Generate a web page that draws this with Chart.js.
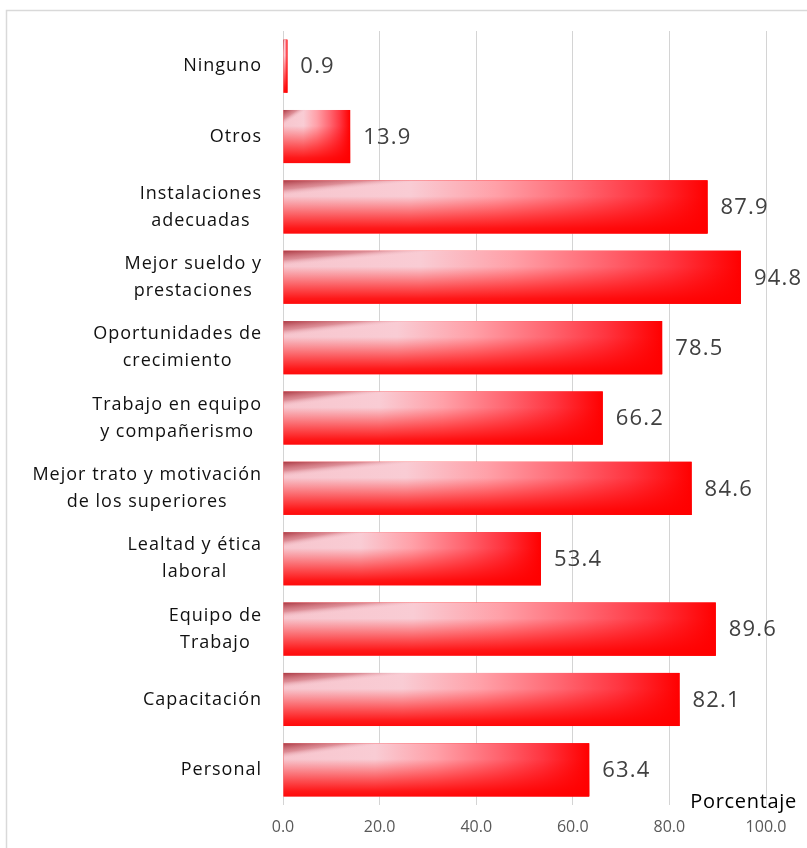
<!DOCTYPE html>
<html>
<head>
<meta charset="utf-8">
<script src="https://cdn.jsdelivr.net/npm/chart.js@4.4.1/dist/chart.umd.min.js"></script>
<style>
  html, body { margin: 0; padding: 0; background: #fff; }
  #wrap { width: 807px; height: 848px; }
</style>
</head>
<body>
<div id="wrap"><canvas id="myChart" width="807" height="848"></canvas></div>
<script>
// categorias de arriba hacia abajo
const categorias = [
    ["Ninguno"],
    ["Otros"],
    ["Instalaciones", "adecuadas"],
    ["Mejor sueldo y", "prestaciones"],
    ["Oportunidades de", "crecimiento"],
    ["Trabajo en equipo", "y compañerismo"],
    ["Mejor trato y motivación", "de los superiores"],
    ["Lealtad y ética", "laboral"],
    ["Equipo de", "Trabajo"],
    ["Capacitación"],
    ["Personal"]
];
const porcentajes = [0.9, 13.9, 87.9, 94.8, 78.5, 66.2, 84.6, 53.4, 89.6, 82.1, 63.4];
const ticksX = [0, 20, 40, 60, 80, 100];
const tituloX = "Porcentaje";

const fuente = "'Open Sans', 'Noto Sans', sans-serif";

// marco gris del grafico
const marco = {
    id: "marco",
    beforeDraw(chart) {
        const ctx = chart.ctx;
        ctx.save();
        ctx.strokeStyle = "#d9d9d9";
        ctx.lineWidth = 1.5;
        ctx.beginPath();
        ctx.moveTo(6.5, chart.height);
        ctx.lineTo(6.5, 10.5);
        ctx.lineTo(chart.width, 10.5);
        ctx.stroke();
        ctx.restore();
    }
};

// degradado tipo Excel sobre cada barra, etiquetas y textos
const decorado = {
    id: "decorado",
    afterDatasetsDraw(chart) {
        const ctx = chart.ctx;
        const meta = chart.getDatasetMeta(0);
        const yScale = chart.scales.y;
        meta.data.forEach((bar, i) => {
            const p = bar.getProps(["x", "y", "base", "height"], true);
            const x0 = Math.min(p.base, p.x);
            const w = Math.abs(p.x - p.base);
            const top = p.y - p.height / 2;
            if (w <= 0) return;
            ctx.save();
            ctx.translate(x0, top);
            ctx.scale(w, p.height);
            // horizontal: rosa palido -> rojo
            const gh = ctx.createLinearGradient(0, 0, 1, 0);
            gh.addColorStop(0, "#f7c6ce");
            gh.addColorStop(0.3, "#f9ccd4");
            gh.addColorStop(0.5, "#ffa0a8");
            gh.addColorStop(0.7, "#ff6570");
            gh.addColorStop(0.85, "#ff3540");
            gh.addColorStop(1, "#ff0000");
            ctx.fillStyle = gh;
            ctx.fillRect(0, 0, 1, 1);
            // vertical: rojo hacia abajo
            const gv = ctx.createLinearGradient(0, 0, 0, 1);
            gv.addColorStop(0, "rgba(255,0,0,0)");
            gv.addColorStop(0.3, "rgba(255,0,0,0)");
            gv.addColorStop(0.5, "rgba(255,0,0,0.3)");
            gv.addColorStop(0.7, "rgba(255,0,0,0.6)");
            gv.addColorStop(0.9, "rgba(255,0,0,0.88)");
            gv.addColorStop(1, "rgba(255,0,0,0.95)");
            ctx.fillStyle = gv;
            ctx.fillRect(0, 0, 1, 1);
            // cuña oscura arriba a la izquierda
            const gd = ctx.createLinearGradient(0, 0, 0.14, 0.17);
            gd.addColorStop(0, "rgba(165,45,55,0.92)");
            gd.addColorStop(0.6, "rgba(195,85,95,0.5)");
            gd.addColorStop(1, "rgba(240,190,200,0)");
            ctx.fillStyle = gd;
            ctx.fillRect(0, 0, 1, 1);
            ctx.restore();

            // valor
            ctx.save();
            ctx.font = "22px " + fuente;
            ctx.letterSpacing = "1.2px";
            ctx.fillStyle = "#404040";
            ctx.textAlign = "left";
            ctx.textBaseline = "middle";
            ctx.fillText(porcentajes[i].toFixed(1), p.x + 13, p.y + 1);
            ctx.restore();
        });

        // etiquetas de categoria centradas
        ctx.save();
        ctx.font = "18px " + fuente;
        ctx.letterSpacing = "1px";
        ctx.fillStyle = "#111111";
        ctx.textAlign = "center";
        ctx.textBaseline = "middle";
        const derecha = chart.chartArea.left - 21;
        const alto = 27;
        categorias.forEach((lineas, i) => {
            const cy = yScale.getPixelForValue(i);
            const ancho = Math.max(...lineas.map(l => ctx.measureText(l).width));
            const cx = derecha - ancho / 2;
            lineas.forEach((l, k) => {
                ctx.fillText(l, cx, cy + (k - (lineas.length - 1) / 2) * alto);
            });
        });
        ctx.restore();

        // titulo del eje
        ctx.save();
        ctx.font = "20px " + fuente;
        ctx.letterSpacing = "0.7px";
        ctx.fillStyle = "#000000";
        ctx.textAlign = "right";
        ctx.textBaseline = "alphabetic";
        ctx.fillText(tituloX, chart.width - 10, chart.chartArea.bottom + 3);
        ctx.restore();
    }
};

const config = {
    type: "bar",
    data: {
        labels: categorias.map(c => c.join(" ")),
        datasets: [{
            label: tituloX,
            data: porcentajes,
            backgroundColor: "#ff0000",
            borderWidth: 0,
            barPercentage: 1,
            categoryPercentage: 0.755
        }]
    },
    options: {
        indexAxis: "y",
        responsive: false,
        animation: false,
        layout: { padding: { left: 283, top: 31, right: 41, bottom: 0 } },
        plugins: {
            legend: { display: false },
            tooltip: { enabled: false }
        },
        scales: {
            x: {
                min: 0,
                max: 100,
                afterBuildTicks: (s) => { s.ticks = ticksX.map(v => ({ value: v })); },
                afterFit: (s) => { s.height = 43; },
                border: { display: false },
                grid: { color: "#d4d4d4", lineWidth: 1, drawTicks: false },
                ticks: {
                    padding: 13,
                    color: "#595959",
                    font: { family: fuente, size: 16 },
                    maxRotation: 0,
                    callback: (v) => Number(v).toFixed(1)
                }
            },
            y: {
                display: false,
                grid: { display: false }
            }
        }
    },
    plugins: [marco, decorado]
};

const ctx = document.getElementById("myChart").getContext("2d");
const myChart = new Chart(ctx, config);
</script>
</body>
</html>
